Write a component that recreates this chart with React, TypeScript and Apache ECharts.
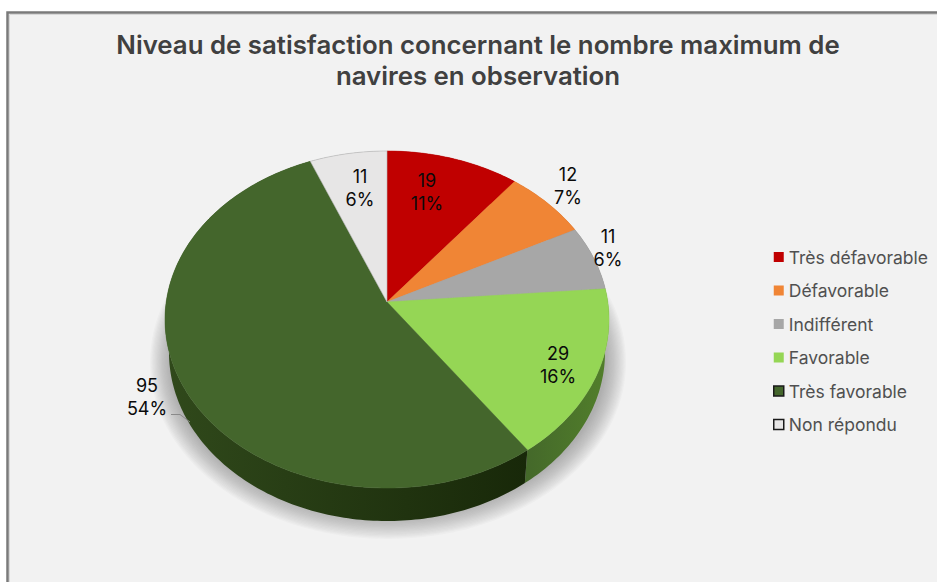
import React, { useEffect, useRef } from "react";
import * as echarts from "echarts";

const titleLines = ["Niveau de satisfaction concernant le nombre maximum de", "navires en observation"];
const categories = ["Très défavorable", "Défavorable", "Indifférent", "Favorable", "Très favorable", "Non répondu"];
const values = [19, 12, 11, 29, 95, 11];
const topColors = ["#c00000", "#f08535", "#a7a7a7", "#95d655", "#44662c", "#e7e6e6"];
const wallColorsA = ["#8a0000", "#b0602a", "#777777", "#44682a", "#30491b", "#a5a5a5"];
const wallColorsB = ["#8a0000", "#b0602a", "#777777", "#527f2b", "#182809", "#a5a5a5"];
const labelCentres = [[427, 192], [568, 186], [608, 248], [558, 365], [147, 397], [360, 188]];

const total = values.reduce((a, b) => a + b, 0);
const APEX_X = 387, APEX_Y = 302, A = 220.8, B = 166.7, K = 0.1039, DEPTH = 33, NARROW = 0.982;
const SHADOW_STEPS = 18;

function rim(deg: number, bottom: boolean) {
  const t = (deg * Math.PI) / 180;
  const u = Math.sin(t), v = -Math.cos(t);
  const d = 1 - K * v;
  return [APEX_X + (A * (bottom ? NARROW : 1) * u) / d, APEX_Y + (bottom ? DEPTH : 0) + (B * v) / d];
}
function arc(from: number, to: number, bottom: boolean) {
  const n = Math.max(2, Math.ceil(to - from));
  const pts: number[][] = [];
  for (let i = 0; i <= n; i++) pts.push(rim(from + ((to - from) * i) / n, bottom));
  return pts;
}

const FONT = "Inter, 'Noto Sans', sans-serif";

export default function App() {
  const ref = useRef<HTMLDivElement>(null);
  useEffect(() => {
    document.body.style.margin = "0";
    document.body.style.overflow = "hidden";
    const chart = echarts.init(ref.current!, undefined, { renderer: "svg" });
    const series = categories.map((name, idx) => ({
      type: "custom",
      name,
      coordinateSystem: "none",
      data: [values[idx]],
      itemStyle: { color: topColors[idx] },
      silent: true,
      renderItem: (_p: any, api: any) => {
        const before = values.slice(0, idx).reduce((a, b) => a + b, 0);
        const from = (before / total) * 360;
        const to = ((before + api.value(0)) / total) * 360;
        const top = arc(from, to, false);
        const bot = arc(from, to, true).reverse();
        const children: any[] = [
          {
            type: "polygon",
            z2: 1,
            shape: { points: top.concat(bot) },
            style: {
              fill: new echarts.graphic.LinearGradient(0, 0, 1, 0, [
                { offset: 0, color: wallColorsA[idx] },
                { offset: 1, color: wallColorsB[idx] },
              ]),
            },
          },
          {
            type: "polygon",
            z2: 5,
            shape: { points: [[APEX_X, APEX_Y], ...top] },
            style: {
              fill: topColors[idx],
              stroke: idx === 5 ? "#b5b5b5" : topColors[idx],
              lineWidth: idx === 5 ? 0.6 : 0.5,
            },
          },
          {
            type: "text",
            z2: 10,
            style: {
              x: labelCentres[idx][0],
              y: labelCentres[idx][1],
              text: `${api.value(0)}\n${Math.round((api.value(0) / total) * 100)}%`,
              align: "center",
              verticalAlign: "middle",
              fontFamily: FONT,
              fontSize: 18,
              lineHeight: 22.5,
              fill: "#0a0a0a",
            },
          },
        ];
        if (idx === 4) {
          children.push({
            type: "polyline",
            z2: 6,
            shape: { points: [[171, 414.5], [180, 414.5], [190, 422]] },
            style: { stroke: "#8a8a8a", lineWidth: 1, fill: "none" },
          });
        }
        return { type: "group", children };
      },
    }));

    const shadowRings = Array.from({ length: SHADOW_STEPS }, (_, i) => ({
      type: "ellipse",
      silent: true,
      shape: { cx: 388, cy: 362, rx: 238 - i * 1.2, ry: 177 - i * 1.3 },
      style: { fill: "rgba(112,112,112,0.036)" },
    }));

    chart.setOption({
      animation: false,
      title: {
        text: titleLines.join("\n"),
        left: 473,
        top: 23.5,
        textAlign: "center",
        textStyle: { fontFamily: FONT, fontSize: 25.8, fontWeight: 600, lineHeight: 31.5, color: "#404040" },
      },
      legend: {
        orient: "vertical",
        left: 768,
        top: 242,
        itemWidth: 10,
        itemHeight: 10,
        itemGap: 13.5,
        selectedMode: false,
        textStyle: { fontFamily: FONT, fontSize: 17.5, color: "#505050", lineHeight: 20 },
        data: categories.map((name, i) => ({
          name,
          icon: "rect",
          itemStyle: i >= 4
            ? { color: topColors[i], borderColor: "#1a1a1a", borderWidth: 1.5 }
            : { color: topColors[i], borderWidth: 0 },
        })),
      },
      graphic: [
        { type: "rect", silent: true, shape: { x: 7.5, y: 12.5, width: 1000, height: 700 }, style: { fill: "#f2f2f2", stroke: "#7a7a7a", lineWidth: 2.5 } },
        { type: "rect", silent: true, shape: { x: 9.5, y: 14.5, width: 1000, height: 700 }, style: { fill: "none", stroke: "#d8d8d8", lineWidth: 1 } },
        ...shadowRings,
      ],
      series,
    });
    return () => chart.dispose();
  }, []);
  return <div ref={ref} style={{ width: 937, height: 582 }} />;
}
